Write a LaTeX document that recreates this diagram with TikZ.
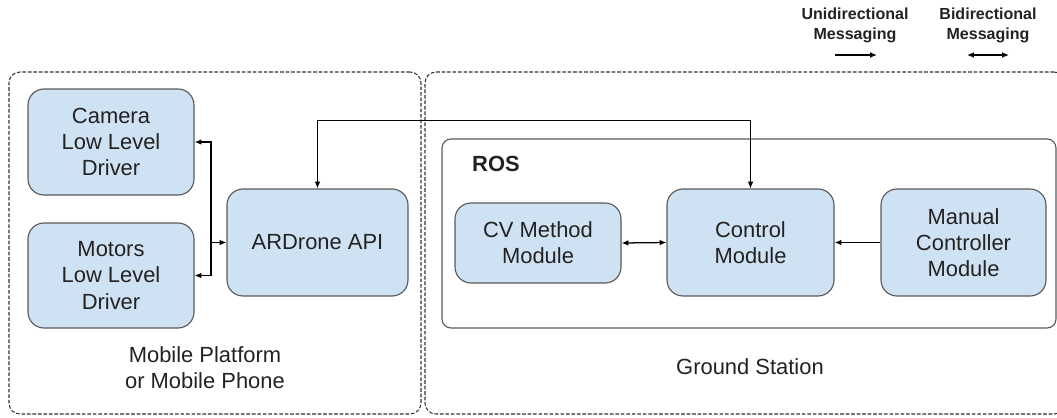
\documentclass[tikz,border=0pt]{standalone}
\usepackage{fontspec}
\setmainfont{Liberation Sans}
\usetikzlibrary{arrows.meta,calc}

\newdimen\upx \upx=0.025cm
\definecolor{modfill}{HTML}{CFE2F3}
\definecolor{modline}{HTML}{595959}
\definecolor{txtcol}{HTML}{222222}

\begin{document}
\begin{tikzpicture}[
  x=\upx, y=-\upx,
  font=\fontsize{15.6}{18.6}\selectfont, text=txtcol,
  module/.style 2 args={draw=modline, fill=modfill, line width=0.8pt,
    rounded corners=16\upx, align=center, inner sep=0pt,
    minimum width=#1\upx, minimum height=#2\upx},
  region/.style 2 args={draw=black!80, line width=0.75pt,
    dash pattern=on 2.6pt off 1.3pt, rounded corners=11\upx, inner sep=0pt,
    minimum width=#1\upx, minimum height=#2\upx},
  rosbox/.style 2 args={draw=modline, line width=0.8pt,
    rounded corners=9\upx, inner sep=0pt,
    minimum width=#1\upx, minimum height=#2\upx},
  legend/.style={font=\bfseries\fontsize{11.4}{14.2}\selectfont, align=center},
  conn/.style={draw=black, line width=0.9pt,
    >={Latex[length=0.17cm,width=0.14cm]}}
  ]
  \useasboundingbox (0,0) rectangle (1057,417);

  % the two sides
  \node[region={412}{342}] (NMob) at (215,243) {};
  \node[region={640}{342}] (NGnd) at (745,243) {};
  \node[align=center] (NMobTxt) at (205,368) {Mobile Platform\\or Mobile Phone};
  \node (NGndTxt) at (750,367) {Ground Station};

  % drone side
  \node[module={166}{106}] (NCam) at (111,142)   {Camera\\Low Level\\Driver};
  \node[module={166}{105}] (NMot) at (111,275.5) {Motors\\Low Level\\Driver};
  \node[module={181}{107}] (NApi) at (317.5,242.5) {ARDrone API};

  % ground station side
  \node[rosbox={614}{189}] (NRos) at (749,233.5) {};
  \node[font=\bfseries\fontsize{15.6}{18.6}\selectfont] (NRosTxt) at (496,164) {ROS};
  \node[module={166}{80}]  (NCv)  at (538,243)     {CV Method\\Module};
  \node[module={167}{107}] (NCtl) at (750.5,242.5) {Control\\Module};
  \node[module={165}{107}] (NMan) at (963.5,242.5) {Manual\\Controller\\Module};

  % legend
  \node[legend] (NUniTxt) at (855,25) {Unidirectional\\Messaging};
  \node[legend] (NBiTxt)  at (988,25) {Bidirectional\\Messaging};
  \coordinate (NUniA) at (835,55);
  \coordinate (NUniB) at (877,55);
  \coordinate (NBiA)  at (967,55);
  \coordinate (NBiB)  at (1009,55);

  \coordinate (NFork) at (211,242.5);

  \path[conn]
  (NUniA) edge[->]  (NUniB)
  (NBiA)  edge[<->] (NBiB)
  (NCv.east)  edge[<->] (NCtl.west)
  (NMan.west) edge[->]  (NCtl.east)
  ;
  \draw[conn,<->] (NCam.east) -| (NFork) -- (NApi.west);
  \draw[conn,->] (NFork) |- (NMot.east);
  \draw[conn,<->] (NApi.north) |- ($(NCtl.north)+(0,-68)$) -- (NCtl.north);
\end{tikzpicture}
\end{document}
